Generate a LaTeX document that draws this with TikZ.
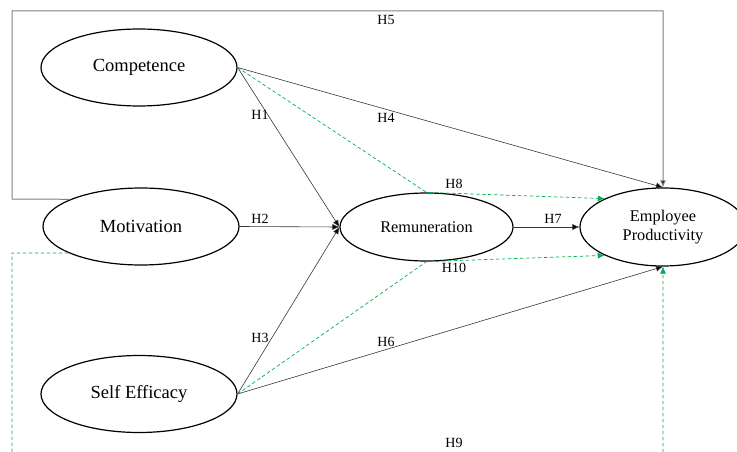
\documentclass[tikz,border=0pt]{standalone}
\usepackage{fontspec}
\setmainfont{Liberation Serif}
\usetikzlibrary{shapes.geometric,arrows.meta}
\definecolor{dgreen}{RGB}{0,176,80}
\definecolor{lgray}{RGB}{55,55,55}
\tikzset{
  construct/.style={draw=black,line width=1.2pt,ellipse,inner sep=0pt},
  outer/.style={construct,minimum width=196pt,minimum height=77pt,font=\fontsize{18.5}{20}\selectfont},
  inner/.style={construct,font=\fontsize{16.3}{19}\selectfont,align=center},
  path/.style={draw=lgray,line width=0.6pt,-{Latex[length=7pt,width=6pt,fill=black]}},
  boxpath/.style={draw=gray,line width=1pt,-{Latex[length=7pt,width=6pt,fill=black]}},
  med/.style={draw=dgreen,line width=0.7pt,dash pattern=on 3.5pt off 2.5pt,-{Latex[length=7pt,width=6pt,fill=dgreen]}},
  hlab/.style={inner sep=0pt,font=\fontsize{14}{16}\selectfont}
}
\begin{document}
\begin{tikzpicture}[x=1pt,y=-1pt]
\useasboundingbox (0,0) rectangle (737,452);
\node[outer] (comp) at (139,67.5) {Competence};
\node[outer] (mot) at (141,226.5) {Motivation};
\node[outer] (self) at (139,394) {Self Efficacy};
\node[inner,minimum width=173pt,minimum height=68pt] (rem) at (426.5,227) {Remuneration};
\node[inner,minimum width=166pt,minimum height=78pt] (ep) at (663,227) {Employee\\Productivity};
% H5 box
\coordinate (b1) at (12,199);
\coordinate (b2) at (12,11);
\coordinate (b3) at (663,11);
\draw[boxpath] (mot.159) -- (b1) -- (b2) -- (b3) -- (ep.north);
% H9 dashed
\coordinate (g1) at (12,253);
\coordinate (g2) at (12,470);
\coordinate (g3) at (663,470);
\draw[med] (mot.200) -- (g1) -- (g2) -- (g3) -- (ep.south);
% direct paths
\draw[path] (comp.east) -- (rem.west);
\draw[path] (mot.east) -- (rem.west);
\draw[path] (self.east) -- (rem.west);
\draw[path] (comp.east) -- (ep.north);
\draw[path] (self.east) -- (ep.south);
\draw[path] (rem.east) -- (ep.west);
% mediation
\draw[med] (comp.east) -- (rem.north) -- (ep.154);
\draw[med] (self.east) -- (rem.south) -- (ep.206);
% labels
\node[hlab] (h1) at (260,115) {H1};
\node[hlab] (h2) at (260,219) {H2};
\node[hlab] (h3) at (260,338) {H3};
\node[hlab] (h4) at (386,118) {H4};
\node[hlab] (h5) at (386,20) {H5};
\node[hlab] (h6) at (386,342) {H6};
\node[hlab] (h7) at (553,219) {H7};
\node[hlab] (h8) at (454,184) {H8};
\node[hlab] (h9) at (454,443) {H9};
\node[hlab] (h10) at (454,268) {H10};
\end{tikzpicture}
\end{document}
